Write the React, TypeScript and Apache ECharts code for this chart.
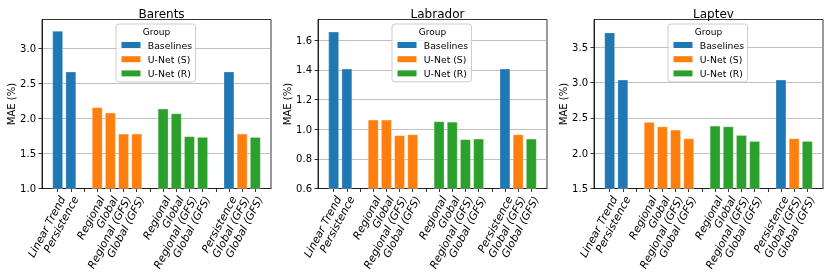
import React, { useEffect, useRef } from 'react';
import * as echarts from 'echarts';

const categories = [
  'Linear Trend', 'Persistence', '',
  'Regional', 'Global', 'Regional (GFS)', 'Global (GFS)', '',
  'Regional', 'Global', 'Regional (GFS)', 'Global (GFS)', '',
  'Persistence', 'Global (GFS)', 'Global (GFS)',
];
const groupOfBar = [
  'Baselines', 'Baselines', null,
  'U-Net (S)', 'U-Net (S)', 'U-Net (S)', 'U-Net (S)', null,
  'U-Net (R)', 'U-Net (R)', 'U-Net (R)', 'U-Net (R)', null,
  'Baselines', 'U-Net (S)', 'U-Net (R)',
];
const groups = ['Baselines', 'U-Net (S)', 'U-Net (R)'];
const groupColors = ['#1f77b4', '#ff7f0e', '#2ca02c'];
const panelTitles = ['Barents', 'Labrador', 'Laptev'];

const barentsMAE = [3.247, 2.666, null, 2.157, 2.08, 1.78, 1.78, null, 2.137, 2.07, 1.743, 1.733, null, 2.666, 1.78, 1.733];
const labradorMAE = [1.656, 1.407, null, 1.063, 1.063, 0.958, 0.964, null, 1.052, 1.049, 0.931, 0.935, null, 1.407, 0.964, 0.935];
const laptevMAE = [3.706, 3.038, null, 2.44, 2.377, 2.33, 2.208, null, 2.387, 2.377, 2.255, 2.17, null, 3.038, 2.208, 2.17];

const barentsTicks = [1.0, 1.5, 2.0, 2.5, 3.0];
const labradorTicks = [0.6, 0.8, 1.0, 1.2, 1.4, 1.6];
const laptevTicks = [1.5, 2.0, 2.5, 3.0, 3.5];

const panelValues = [barentsMAE, labradorMAE, laptevMAE];
const panelTicks = [barentsTicks, labradorTicks, laptevTicks];

const FONT = 'DejaVu Sans';

export default function App() {
  const ref = useRef<HTMLDivElement>(null);
  useEffect(() => {
    if (!ref.current) return;
    const chart = echarts.init(ref.current, null, { renderer: 'svg' });
    const gridLefts = [42, 318, 594];
    const gridTop = 19.5;
    const gridWidth = 229;
    const gridHeight = 169;
    const xMin = -1.19;
    const xMax = 16.19;
    const barWidth = (0.8 * gridWidth) / (xMax - xMin);
    const positions = categories.map((_, i) => i);

    const grids: any[] = [];
    const xAxes: any[] = [];
    const yAxes: any[] = [];
    const series: any[] = [];
    const titles: any[] = [];
    const legends: any[] = [];
    const graphics: any[] = [];

    panelTitles.forEach((title, p) => {
      const vals = panelValues[p];
      const ticks = panelTicks[p];
      const maxVal = Math.max(...(vals.filter((v) => v !== null) as number[]));
      const center = gridLefts[p] + gridWidth / 2;
      grids.push({
        left: gridLefts[p], top: gridTop, width: gridWidth, height: gridHeight,
        show: true, borderColor: '#000', borderWidth: 0.8, backgroundColor: 'transparent',
      });
      xAxes.push({
        type: 'value', gridIndex: p, min: xMin, max: xMax,
        splitLine: { show: false },
        axisLine: { show: true, onZero: false, lineStyle: { color: '#000', width: 0.8 } },
        axisTick: { show: true, customValues: positions, length: 3.5, lineStyle: { color: '#000', width: 0.8 } },
        axisLabel: {
          customValues: positions,
          formatter: (v: number) => categories[Math.round(v)] ?? '',
          rotate: 62, fontSize: 10.8, fontStyle: 'italic', color: '#000', fontFamily: FONT,
          margin: 6, verticalAlign: 'top',
        },
      });
      yAxes.push({
        type: 'value', gridIndex: p, min: ticks[0], max: maxVal * 1.05,
        name: 'MAE (%)', nameLocation: 'middle', nameGap: 25,
        nameTextStyle: { fontSize: 10, color: '#000', fontFamily: FONT },
        axisLine: { show: true, onZero: false, lineStyle: { color: '#000', width: 0.8 } },
        axisTick: { show: true, customValues: ticks, length: 3.5, lineStyle: { color: '#000', width: 0.8 } },
        axisLabel: {
          customValues: ticks, formatter: (v: number) => v.toFixed(1),
          fontSize: 10, color: '#000', fontFamily: FONT, margin: 6,
        },
        splitLine: { show: true, lineStyle: { color: '#b0b0b0', width: 0.8 } },
      });
      groups.forEach((g, gi) => {
        const data: any[] = [];
        vals.forEach((v, i) => {
          if (v !== null && groupOfBar[i] === g) data.push([i, v]);
        });
        series.push({
          type: 'bar', name: g, xAxisIndex: p, yAxisIndex: p, data,
          barWidth, barGap: '-100%', clip: true,
          itemStyle: { color: groupColors[gi], borderColor: 'rgba(255,255,255,0.45)', borderWidth: 0.6 },
          emphasis: { disabled: true },
        });
      });
      titles.push({
        text: title, left: center, top: 3, textAlign: 'center',
        textStyle: { fontSize: 12, fontWeight: 'normal', color: '#000', fontFamily: FONT },
      });
      legends.push({
        orient: 'vertical', left: center - 40.5, top: 24,
        padding: [15.5, 3.5, 3, 5.5], itemGap: 3.2, itemWidth: 19, itemHeight: 6,
        icon: 'rect', data: groups,
        backgroundColor: 'rgba(255,255,255,0.8)', borderColor: '#cccccc', borderWidth: 1, borderRadius: 3,
        itemStyle: { borderWidth: 0 },
        textStyle: { fontSize: 9.3, color: '#000', fontFamily: FONT, lineHeight: 11, padding: [0, 0, 0, 2.3] },
        selectedMode: false,
      });
      graphics.push({
        type: 'text', x: center, y: 32.3, z: 100,
        style: { text: 'Group', fontSize: 9, fill: '#000', fontFamily: FONT, textAlign: 'center', textVerticalAlign: 'middle' },
      });
    });

    chart.setOption({
      animation: false,
      textStyle: { fontFamily: FONT },
      title: titles,
      legend: legends,
      grid: grids,
      xAxis: xAxes,
      yAxis: yAxes,
      series,
      graphic: graphics,
    });
    return () => chart.dispose();
  }, []);
  return <div ref={ref} style={{ position: 'fixed', left: 0, top: 0, width: 830, height: 275 }} />;
}
